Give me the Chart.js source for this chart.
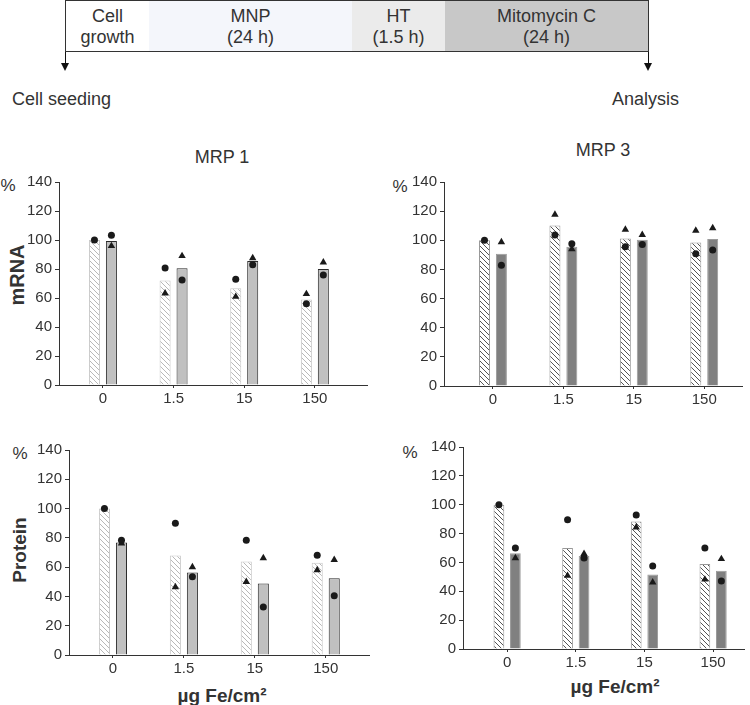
<!DOCTYPE html>
<html>
<head>
<meta charset="utf-8">
<script src="https://cdn.jsdelivr.net/npm/chart.js@4.4.1/dist/chart.umd.min.js"></script>
<style>
  body { margin: 0; width: 750px; height: 705px; overflow: hidden; background: #fff; position: relative;
         font-family: "Liberation Sans", Arial, sans-serif; color: #333; }
  .abs { position: absolute; white-space: nowrap; line-height: 1; }
  .c { transform: translate(-50%, -50%); text-align: center; }
  .cell { position: absolute; top: 0; height: 52px; box-sizing: border-box; border: 1px solid #333;
          font-size: 18px; line-height: 21px; text-align: center; padding-top: 5px; color: #333; }
  .stem { position: absolute; width: 1px; background: #111; top: 52px; height: 12px; }
  .head { position: absolute; top: 63px; width: 0; height: 0; border-left: 4px solid transparent;
          border-right: 4px solid transparent; border-top: 8px solid #111; }
  canvas { position: absolute; }
</style>
</head>
<body>

<!-- timeline of the experiment -->
<div class="cell" style="left:65px; width:85px; background:#fff;">Cell<br>growth</div>
<div class="cell" style="left:149px; width:204px; background:#f4f6fb; border-left:none;">MNP<br>(24 h)</div>
<div class="cell" style="left:352px; width:94px; background:#ebebeb; border-left:none;">HT<br>(1.5 h)</div>
<div class="cell" style="left:445px; width:204px; background:#c8c8c8; border-left:none;">Mitomycin C<br>(24 h)</div>
<div class="stem" style="left:65px;"></div><div class="head" style="left:61px;"></div>
<div class="stem" style="left:648px;"></div><div class="head" style="left:644px;"></div>
<div class="abs" style="left:12px; top:90px; font-size:18px;">Cell seeding</div>
<div class="abs" style="left:612px; top:90px; font-size:18px;">Analysis</div>

<!-- panel texts -->
<div class="abs c" style="left:222px; top:157px; font-size:18px;">MRP 1</div>
<div class="abs c" style="left:603px; top:150px; font-size:18px;">MRP 3</div>
<div class="abs c" style="left:8px; top:185px; font-size:17px;">%</div>
<div class="abs c" style="left:400px; top:186px; font-size:17px;">%</div>
<div class="abs c" style="left:20px; top:453px; font-size:17px;">%</div>
<div class="abs c" style="left:410px; top:452px; font-size:17px;">%</div>
<div class="abs c" style="left:17px; top:275px; font-size:20px; font-weight:bold; transform:translate(-50%,-50%) rotate(-90deg);">mRNA</div>
<div class="abs c" style="left:19px; top:550px; font-size:19px; font-weight:bold; transform:translate(-50%,-50%) rotate(-90deg);">Protein</div>
<div class="abs c" style="left:222px; top:695px; font-size:19px; font-weight:bold;">µg Fe/cm²</div>
<div class="abs c" style="left:615px; top:686px; font-size:19px; font-weight:bold;">µg Fe/cm²</div>

<canvas id="mrp1Mrna" width="363" height="243" style="left:9px; top:170px;"></canvas>
<canvas id="mrp3Mrna" width="353" height="244" style="left:394px; top:170px;"></canvas>
<canvas id="mrp1Protein" width="355" height="245" style="left:19px; top:438px;"></canvas>
<canvas id="mrp3Protein" width="336" height="242" style="left:413px; top:435px;"></canvas>

<script>
// doses on the x axis
var doses = ['0', '1.5', '15', '150'];

// MRP 1 mRNA
var mrp1MrnaHatch = [100, 72, 66.7, 59];
var mrp1MrnaGray = [99.3, 80.5, 85.5, 80];
var mrp1MrnaHatchDots = [100, 80.7, 72.9, 56.1];
var mrp1MrnaHatchTris = [null, 63.2, 60.9, 62.8];
var mrp1MrnaGrayDots = [103.2, 72.4, 83, 75.9];
var mrp1MrnaGrayTris = [95.9, 89, 87.6, 84.6];

// MRP 3 mRNA
var mrp3MrnaHatch = [100, 110.2, 101.2, 98.5];
var mrp3MrnaGray = [90.7, 95.5, 100.3, 100.8];
var mrp3MrnaHatchDots = [100, 103.6, 95.5, 90.7];
var mrp3MrnaHatchTris = [null, 117.6, 107.4, 106.6];
var mrp3MrnaGrayDots = [82.9, 97.6, 97.1, 93.4];
var mrp3MrnaGrayTris = [98.8, 93.9, 103.8, 108.4];

// MRP 1 protein
var mrp1ProtHatch = [100, 68, 63.9, 63];
var mrp1ProtGray = [76.9, 56.4, 48.9, 52.5];
var mrp1ProtHatchDots = [100, 90, 78.4, 68.2];
var mrp1ProtHatchTris = [null, 46.4, 50, 58];
var mrp1ProtGrayDots = [78.4, 53.4, 32.7, 40.5];
var mrp1ProtGrayTris = [76.2, 60, 66.2, 65];

// MRP 3 protein
var mrp3ProtHatch = [100, 70, 88.4, 58.9];
var mrp3ProtGray = [66.3, 64.4, 51.7, 54.3];
var mrp3ProtHatchDots = [100, 89.6, 92.8, 70];
var mrp3ProtHatchTris = [null, 50.8, 84.3, 48.2];
var mrp3ProtGrayDots = [70, 63, 57.5, 47.1];
var mrp3ProtGrayTris = [63, 66, 46.2, 62.4];

var yTicks = [0, 20, 40, 60, 80, 100, 120, 140];

Chart.defaults.font.family = '"Liberation Sans", Arial, sans-serif';
Chart.defaults.font.size = 15;
Chart.defaults.color = '#333';

var catPct = 0.48;
var barPct = 0.65;
var off = catPct / 4;

function makeHatch(color){
    var c = document.createElement('canvas');
    c.width = 5;
    c.height = 5;
    var ctx = c.getContext('2d');
    ctx.fillStyle = '#fff';
    ctx.fillRect(0, 0, 5, 5);
    ctx.strokeStyle = color;
    ctx.lineWidth = 1;
    ctx.beginPath();
    ctx.moveTo(0, 0); ctx.lineTo(5, 5);
    ctx.moveTo(-1, 4); ctx.lineTo(1, 6);
    ctx.moveTo(4, -1); ctx.lineTo(6, 1);
    ctx.stroke();
    return ctx.createPattern(c, 'repeat');
}

function points(hatchVals, grayVals){
    var pts = [];
    hatchVals.forEach((v, i) => { if (v !== null) pts.push({x: i - off, y: v}); });
    grayVals.forEach((v, i) => { if (v !== null) pts.push({x: i + off, y: v}); });
    return pts;
}

function buildPanel(id, p){
    new Chart(id, {
        type: 'bar',
        data: {
            datasets: [{
                type: 'line',
                order: 0,
                data: points(p.hatchDots, p.grayDots),
                showLine: false,
                pointStyle: 'circle',
                pointRadius: 3.5,
                pointBorderWidth: 0,
                pointBackgroundColor: '#1a1a1a'
            }, {
                type: 'line',
                order: 1,
                data: points(p.hatchTris, p.grayTris),
                showLine: false,
                pointStyle: 'triangle',
                pointRadius: 4.3,
                pointBorderWidth: 0,
                pointBackgroundColor: '#1a1a1a'
            }, {
                order: 2,
                data: p.hatch.map((v, i) => ({x: i, y: v})),
                backgroundColor: makeHatch(p.hatchLine),
                borderColor: p.hatchBorder,
                borderWidth: 1,
                categoryPercentage: catPct,
                barPercentage: barPct
            }, {
                order: 2,
                data: p.gray.map((v, i) => ({x: i, y: v})),
                backgroundColor: p.grayFill,
                borderColor: p.grayBorder,
                borderWidth: 1,
                categoryPercentage: catPct,
                barPercentage: barPct
            }]
        },
        options: {
            responsive: false,
            animation: false,
            layout: { padding: { top: 12, right: 2, left: 0, bottom: 0 } },
            plugins: { legend: { display: false }, tooltip: { enabled: false } },
            scales: {
                x: {
                    type: 'linear',
                    offset: false,
                    min: p.xMin,
                    max: p.xMax,
                    afterBuildTicks: axis => { axis.ticks = doses.map((d, i) => ({value: i})); },
                    afterFit: axis => { axis.height = 28; },
                    ticks: { callback: v => doses[v], autoSkip: false, maxRotation: 0, padding: 2 },
                    grid: { offset: false, drawOnChartArea: false, tickLength: 3, color: '#333' },
                    border: { color: '#333', width: 1 }
                },
                y: {
                    min: 0,
                    max: 140,
                    afterBuildTicks: axis => { axis.ticks = yTicks.map(v => ({value: v})); },
                    afterFit: axis => { axis.width = 50; },
                    ticks: { padding: 3 },
                    grid: { drawOnChartArea: false, tickLength: 4, color: '#333' },
                    border: { color: '#333', width: 1 }
                }
            }
        }
    });
}

buildPanel('mrp1Mrna', {
    xMin: -0.622, xMax: 3.748,
    hatch: mrp1MrnaHatch, gray: mrp1MrnaGray,
    hatchDots: mrp1MrnaHatchDots, hatchTris: mrp1MrnaHatchTris,
    grayDots: mrp1MrnaGrayDots, grayTris: mrp1MrnaGrayTris,
    hatchLine: '#b8b8b8', hatchBorder: '#c8c8c8', grayFill: '#c0c0c0', grayBorder: '#2a2a2a'
});
buildPanel('mrp3Mrna', {
    xMin: -0.695, xMax: 3.546,
    hatch: mrp3MrnaHatch, gray: mrp3MrnaGray,
    hatchDots: mrp3MrnaHatchDots, hatchTris: mrp3MrnaHatchTris,
    grayDots: mrp3MrnaGrayDots, grayTris: mrp3MrnaGrayTris,
    hatchLine: '#555', hatchBorder: '#999', grayFill: '#808080', grayBorder: '#9a9a9a'
});
buildPanel('mrp1Protein', {
    xMin: -0.62, xMax: 3.62,
    hatch: mrp1ProtHatch, gray: mrp1ProtGray,
    hatchDots: mrp1ProtHatchDots, hatchTris: mrp1ProtHatchTris,
    grayDots: mrp1ProtGrayDots, grayTris: mrp1ProtGrayTris,
    hatchLine: '#b8b8b8', hatchBorder: '#c8c8c8', grayFill: '#c0c0c0', grayBorder: '#2a2a2a'
});
buildPanel('mrp3Protein', {
    xMin: -0.643, xMax: 3.46,
    hatch: mrp3ProtHatch, gray: mrp3ProtGray,
    hatchDots: mrp3ProtHatchDots, hatchTris: mrp3ProtHatchTris,
    grayDots: mrp3ProtGrayDots, grayTris: mrp3ProtGrayTris,
    hatchLine: '#555', hatchBorder: '#999', grayFill: '#808080', grayBorder: '#9a9a9a'
});
</script>
</body>
</html>
